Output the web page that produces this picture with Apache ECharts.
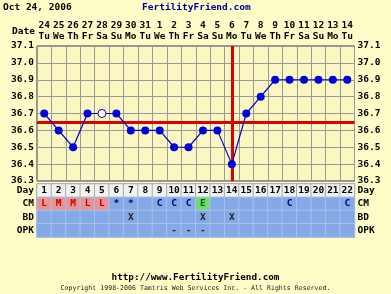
<!DOCTYPE html>
<html><head><meta charset="utf-8">
<script src="https://cdn.jsdelivr.net/npm/echarts@6/dist/echarts.min.js"></script>
<style>html,body{margin:0;padding:0;background:#fffdc8;}#c{width:391px;height:294px;}</style>
</head><body><div id="c"></div>
<script>
const dates = ['24','25','26','27','28','29','30','31','1','2','3','4','5','6','7','8','9','10','11','12','13','14'];
const weekdays = ['Tu','We','Th','Fr','Sa','Su','Mo','Tu','We','Th','Fr','Sa','Su','Mo','Tu','We','Th','Fr','Sa','Su','Mo','Tu'];
const cycleDays = ['1','2','3','4','5','6','7','8','9','10','11','12','13','14','15','16','17','18','19','20','21','22'];
const temps = [36.7,36.6,36.5,36.7,36.7,36.7,36.6,36.6,36.6,36.5,36.5,36.6,36.6,36.4,36.7,36.8,36.9,36.9,36.9,36.9,36.9,36.9];
const openCircleDays = [5];
const coverline = 36.65;
const ovulationDay = 14;
const rowNames = ['Day','CM','BD','OPK'];
const cm  = ['L','M','M','L','L','*','*','','C','C','C','E','','','','','','C','','','','C'];
const bd  = ['','','','','','','X','','','','','X','','X','','','','','','','',''];
const opk = ['','','','','','','','','','-','-','-','','','','','','','','','',''];

const FONT = 'DejaVu Sans Mono';
const BLUE = '#85a9e6', PINK = '#e89494', GREEN = '#6ddc6d', DAYBG = '#f2f2ee';

function cellColor(row, code){
  if (row === 0) return DAYBG;
  if (row === 1 && (code === 'L' || code === 'M')) return PINK;
  if (row === 1 && code === 'E') return GREEN;
  return BLUE;
}
function textColor(row, code){
  if (row === 0) return '#000';
  if (row === 1 && (code === 'L' || code === 'M')) return '#c00000';
  if (row === 1 && code === 'E') return '#006600';
  if (row === 1) return '#00007a';
  return '#222';
}
const rows = [cycleDays, cm, bd, opk];
const cells = [];
rows.forEach((arr, r) => arr.forEach((t, c) => {
  cells.push({value:[c, r, 1], name:t, itemStyle:{color:cellColor(r,t), borderColor: r===0?'#aaaaaa':'#a9c1ec', borderWidth:1}, label:{color:textColor(r,t)}});
}));

const tempData = temps.map((v, i) => openCircleDays.includes(i+1)
  ? {value:v, itemStyle:{color:'#ffffff', borderColor:'#0000aa', borderWidth:1}}
  : {value:v});

const chart = echarts.init(document.getElementById('c'));
const lab = {fontFamily:FONT, fontWeight:'bold', fontSize:9.5, color:'#000'};
chart.setOption({
  backgroundColor:'#fffdc8',
  animation:false,
  title:[
    {text:'Oct 24, 2006', left:3, top:3, padding:0, textStyle:{fontFamily:FONT, fontWeight:'bold', fontSize:9.5, color:'#000'}},
    {text:'FertilityFriend.com', left:142, top:3, padding:0, textStyle:{fontFamily:FONT, fontWeight:'bold', fontSize:9.5, color:'#000099'}},
    {text:'http://www.FertilityFriend.com', left:'center', top:273, padding:0, textStyle:{fontFamily:FONT, fontWeight:'bold', fontSize:9.3, color:'#000'}},
    {text:'Copyright 1998-2006 Tamtris Web Services Inc. - All Rights Reserved.', left:'center', top:284.5, padding:0, textStyle:{fontFamily:FONT, fontWeight:'normal', fontSize:6.6, color:'#222'}}
  ],
  graphic:[{type:'text', right:391-35, top:27, style:{text:'Date', font:'bold 9.5px "DejaVu Sans Mono"', fill:'#000', textAlign:'right'}}],
  grid:[
    {left:37, right:36.5, top:46, height:135, show:true, backgroundColor:'#fbf7c2', borderColor:'#333', borderWidth:1},
    {left:37, right:36.5, top:184, height:53, show:true, backgroundColor:'transparent', borderColor:'#4f6488', borderWidth:1}
  ],
  xAxis:[
    {type:'category', gridIndex:0, position:'top', data:dates, boundaryGap:true,
     axisLine:{show:false}, axisTick:{show:false},
     axisLabel:{...lab, margin:4, lineHeight:11, interval:0, formatter:(v,i)=>v+'\n'+weekdays[i]},
     splitLine:{show:true, interval:0, lineStyle:{color:'#9a9a9a', width:1}}},
    {type:'category', gridIndex:1, data:cycleDays, show:false}
  ],
  yAxis:[
    {type:'value', gridIndex:0, min:36.3, max:37.1, interval:0.1, position:'left',
     axisLine:{show:false}, axisTick:{show:false},
     axisLabel:{...lab, margin:3, formatter:v=>v.toFixed(1)},
     splitLine:{show:true, lineStyle:{color:'#9a9a9a', width:1}}},
    {type:'value', gridIndex:0, min:36.3, max:37.1, interval:0.1, position:'right',
     axisLine:{show:false}, axisTick:{show:false},
     axisLabel:{...lab, margin:3, formatter:v=>v.toFixed(1)},
     splitLine:{show:false}},
    {type:'category', gridIndex:1, data:rowNames, inverse:true, position:'left',
     axisLine:{show:false}, axisTick:{show:false}, axisLabel:{...lab, margin:3}},
    {type:'category', gridIndex:1, data:rowNames, inverse:true, position:'right',
     axisLine:{show:false}, axisTick:{show:false}, axisLabel:{...lab, margin:3}}
  ],
  series:[
    {type:'line', xAxisIndex:0, yAxisIndex:0, data:tempData, symbol:'circle', symbolSize:8,
     lineStyle:{color:'#0000cc', width:1.2}, itemStyle:{color:'#0000dd'}, z:5,
     markLine:{silent:true, symbol:'none', label:{show:false}, z:3,
       lineStyle:{color:'#dd0000', width:3, type:'solid'},
       data:[{yAxis:coverline}, {xAxis:ovulationDay-1}]}},
    {type:'heatmap', xAxisIndex:1, yAxisIndex:2, data:cells,
     label:{show:true, formatter:'{b}', fontFamily:FONT, fontWeight:'bold', fontSize:9.5},
     emphasis:{disabled:true}}
  ]
});
</script></body></html>
